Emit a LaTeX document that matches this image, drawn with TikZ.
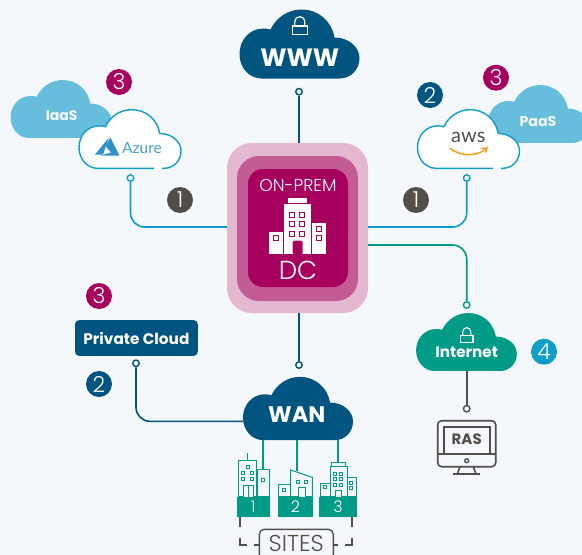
\documentclass[tikz,border=0pt]{standalone}
\usepackage{fontspec}
\setmainfont{Poppins}
\newfontfamily\lightfam{Poppins Light}
\newfontfamily\logofam{Lato}
\newcommand{\fs}[1]{\fontsize{#1}{#1}\selectfont}
\definecolor{bgcol}{HTML}{F4F8FC}
\definecolor{dkblue}{HTML}{005480}
\definecolor{magen}{HTML}{A8005F}
\definecolor{midpink}{HTML}{C25B96}
\definecolor{ltpink}{HTML}{E5B8D1}
\definecolor{tealc}{HTML}{009B87}
\definecolor{skyc}{HTML}{67BEDC}
\definecolor{azblue}{HTML}{0F9DC9}
\definecolor{greyc}{HTML}{534E49}
\definecolor{azlogo}{HTML}{2F8FCB}
\definecolor{awsorange}{HTML}{F79A1E}
\tikzset{bold/.style={font=\bfseries\fs{#1},text=white,inner sep=0pt}}
\tikzset{slim/.style={font=\lightfam\fs{#1},text=white,inner sep=0pt}}
\tikzset{badge/.style={circle,fill=#1,text=white,minimum size=26pt,inner sep=0pt,font=\lightfam\fs{22}}}
\tikzset{dot/.style={circle,draw=#1,fill=bgcol,line width=1.4pt,minimum size=6.5pt,inner sep=0pt}}
\tikzset{link/.style={draw=#1,line width=1.6pt,rounded corners=14pt}}
\tikzset{bld/.style={draw=tealc,line width=1pt,fill=bgcol}}
\tikzset{frame/.style={rounded corners=#1,inner sep=0pt}}
\tikzset{lockpic/.pic={
  \path[pic actions] (-7.5,-4.3) rectangle (7.5,4.3);
  \path[pic actions] (-5,-4.3) -- (-5,-8) .. controls (-5,-15.5) and (5,-15.5) .. (5,-8) -- (5,-4.3);
}}
\tikzset{cloudpic/.pic={
  \path[pic actions] (-38,34.5) .. controls (-50,34.5) and (-60,24) .. (-60,10)
    .. controls (-60,-4) and (-50,-15.5) .. (-36,-15.5)
    .. controls (-33,-15.5) and (-31,-15) .. (-29,-14.5)
    .. controls (-23,-27) and (-11,-34.5) .. (2,-34.5)
    .. controls (19,-34.5) and (32,-23) .. (35,-6.5)
    .. controls (49,-6.5) and (60,3) .. (60,14)
    .. controls (60,26) and (51,34.5) .. (40,34.5) -- cycle;
  \coordinate (-s) at (0,34.5);
  \coordinate (-w) at (-60,14);
}}
\begin{document}
\begin{tikzpicture}[x=1pt,y=-1pt]
\useasboundingbox (0,0) rectangle (582,555);
\fill[bgcol] (0,0) rectangle (582,555);

% clouds
\pic[fill=dkblue] (www) at (299.5,44) {cloudpic};
\pic[fill=skyc,scale=.84] (iaas) at (61,109) {cloudpic};
\pic[fill=skyc,scale=.84] (paas) at (538.5,114) {cloudpic};
\pic[fill=white,draw=azblue,line width=1.4pt,scale=.85] (azure) at (130,139) {cloudpic};
\pic[fill=white,draw=azblue,line width=1.4pt,scale=.85] (aws) at (468.5,139) {cloudpic};
\pic[fill=dkblue,scale=.917] (wan) at (298,408.5) {cloudpic};
\pic[fill=tealc,scale=.84] (inet) at (466.5,342) {cloudpic};
\draw[white,line width=2.2pt] (154,168.4) -- (162,168.4);
\draw[white,line width=2.2pt] (493,168.4) -- (501,168.4);

\pic[draw=white,line width=1.2pt] (wwwlock) at (299.8,30.3) {lockpic};
\pic[draw=white,line width=1.1pt,scale=.82] (inetlock) at (466.8,338.8) {lockpic};
\node[bold=25](wwwlab) at (299.8,57.5) {WWW};
\node[bold=22.5](wanlab) at (296.7,414.3) {WAN};
\node[bold=15.2](inetlab) at (466.7,352.7) {Internet};
\node[bold=14,text=bgcol](iaaslab) at (61.7,116) {IaaS};
\node[bold=14.2,text=bgcol](paaslab) at (538,121) {PaaS};

% logos
\fill[azlogo] (109,137.5) -- (95,154.5) -- (103,154.5) -- cycle;
\fill[azlogo] (110.5,137.5) -- (119.5,155.5) -- (101,155.5) -- (111,152.5) -- (105.5,146) -- cycle;
\node[font=\logofam\fs{15.5},text=azlogo!85!white,inner sep=0pt](azlab) at (142,148.3) {Azure};
\node[font=\logofam\fs{20},text=greyc,inner sep=0pt](awslab) at (468.3,137.5) {aws};
\draw[awsorange,line width=1.5pt,line cap=round] (450,148.5) .. controls (460,156) and (474,156.5) .. (484,150.5);
\fill[awsorange] (480,148.2) -- (488,147.2) -- (486,154) -- (485,150) -- cycle;

% dc box
\node[frame=25pt,fill=ltpink,minimum width=141pt,minimum height=170pt](dcouter) at (297.5,228) {};
\node[frame=22pt,fill=midpink,minimum width=121pt,minimum height=145pt](dcmid) at (297.5,228.5) {};
\node[frame=15pt,fill=magen,minimum width=100pt,minimum height=118pt](dcinner) at (298,228) {};
\node[slim=17.2](onprem) at (298,185) {ON-PREM};
\node[slim=26](dclab) at (298,270.7) {DC};
\coordinate (dcleft) at (227,227);
\coordinate (dcright) at (368,227);
\coordinate (dcnet) at (368,245);

% building in the box
\fill[white] (287.7,197.7) rectangle (307.3,202.7);
\fill[white] (284.3,204) rectangle (311,254);
\fill[white] (268.7,232) rectangle (282.7,254);
\fill[white] (312.3,222.7) rectangle (326,254);
\foreach \x/\y in {291.7/215,302.3/215,291.7/224.3,302.3/224.3,291.7/233.7,302.3/233.7,319/228.7,319/237.7,276/238.3}
  \draw[magen,line width=1.3pt] (\x-2.5,\y-2.5) rectangle (\x+2.5,\y+2.5);
\fill[magen,rounded corners=2pt] (292.7,254.5) -- (292.7,240.7) -- (302.7,240.7) -- (302.7,254.5) -- cycle;

% dots and links
\node[dot=azblue](azdot) at (130.5,178) {};
\node[dot=azblue](awsdot) at (466.7,178) {};
\node[dot=tealc](inetdot) at (466.7,305) {};
\node[dot=dkblue](wwwdot) at (299,91.7) {};
\node[dot=dkblue](wandot) at (299,365) {};
\node[dot=dkblue](privdot) at (136,363.3) {};
\node[dot=greyc](rasdot) at (466.7,408.7) {};
\draw[link=azblue] (azdot) |- (dcleft);
\draw[link=azblue] (awsdot) |- (dcright);
\draw[link=tealc] (dcnet) -| (inetdot);
\draw[link=dkblue] (wwwdot) -- (dcouter.north -| wwwdot);
\draw[link=dkblue] (dcouter.south -| wandot) -- (wandot);
\draw[link=dkblue] (privdot) |- (wan-w);
\draw[link=greyc] (inet-s -| rasdot) -- (rasdot);

% private cloud
\node[frame=4pt,fill=dkblue,minimum width=122.7pt,minimum height=35.7pt,bold=15.3](priv) at (136.4,338) {Private Cloud};

% badges
\foreach \n/\x/\y/\c/\t in {azthree/119/82/magen/3,awstwo/430/95/dkblue/2,awsthree/496/77.7/magen/3,
  leftone/180/200/greyc/1,rightone/416/200/greyc/1,privthree/99/296/magen/3,privtwo/99/384/dkblue/2,inetfour/544/351.7/azblue/4}
  \node[badge=\c](\n) at (\x,\y) {\t};

% ras monitor
\draw[greyc,line width=1.6pt,rounded corners=4pt] (437.7,420.7) rectangle (495.7,466.7);
\draw[greyc,line width=1.6pt] (444,454) -- (444,426.7) -- (490,426.7) -- (490,454);
\draw[greyc,line width=1.6pt] (437.7,454) -- (495.7,454);
\draw[greyc,line width=1.3pt] (466.7,460.7) circle (2pt);
\draw[greyc,line width=1.6pt] (460,466.7) -- (457.3,474);
\draw[greyc,line width=1.6pt] (473.3,466.7) -- (476,474);
\draw[greyc,line width=1.6pt] (452.7,474) -- (480,474);
\node[bold=15,text=greyc](raslab) at (466.7,439.3) {RAS};

% site links
\coordinate (sitea) at (263,469);
\coordinate (siteb) at (296.7,471);
\coordinate (sitec) at (338,462.3);
\foreach \t in {sitea,siteb,sitec}
  \draw[link=tealc] (wan-s -| \t) -- (\t);

% site 1
\draw[bld] (257.3,469.3) rectangle (269.3,496.7);
\draw[bld] (238.3,460.7) rectangle (256.7,496.7);
\draw[bld] (247.7,453.3) -- (247.7,460.7);
\draw[bld] (243.3,496.7) -- (243.3,485) -- (253.3,485) -- (253.3,496.7);
\draw[bld] (248.3,485) -- (248.3,496.7);
% site 2
\draw[bld] (278.3,484.3) rectangle (290.7,496.7);
\draw[bld] (290.7,496.7) -- (290.7,470) -- (312.3,477.3) -- (312.3,496.7) -- cycle;
\draw[bld] (298.3,496.7) -- (298.3,487.3) -- (305.7,487.3) -- (305.7,496.7);
% site 3
\draw[bld] (320,483.3) rectangle (330,496.7);
\draw[bld] (347.3,477.7) rectangle (356,496.7);
\draw[bld] (331.7,462.3) rectangle (345,466.7);
\draw[bld] (330,466.7) rectangle (347.3,496.7);
\draw[bld] (335,496.7) -- (335,490) -- (341.7,490) -- (341.7,496.7);
\foreach \x/\y in {247.7/466.7,243.3/472.7,251.7/472.7,243.3/479.3,251.7/479.3,263/480,298.3/481.7,305.7/481.7,284.3/490,
  335.3/474,341.3/474,335.3/479.3,341.3/479.3,335.3/485,341.3/485,325/487.3,351/482.7,351/487.8}
  \draw[bld] (\x-1.6,\y-1.6) rectangle (\x+1.6,\y+1.6);
\foreach \n/\x/\w/\t in {basea/253.3/33.3/1,baseb/295.5/35.6/2,basec/338/37.4/3}
  \node[fill=tealc,minimum width=\w pt,minimum height=20pt,slim=16,inner sep=0pt](\n) at (\x,507) {\t};

% sites bracket
\node[draw=greyc,line width=1.4pt,rounded corners=5pt,minimum width=74pt,minimum height=36pt,inner sep=0pt](sitebox) at (296.3,547.3) {};
\node[slim=23,text=greyc](siteslab) at (296.3,543.6) {SITES};
\draw[greyc,line width=1.5pt] (240,516.7) -- (240,526.7);
\draw[greyc,line width=1.5pt] (352,516.7) -- (352,526.7);
\draw[greyc,line width=1.5pt] (240,538) -- (240,545) -- (246.7,545);
\draw[greyc,line width=1.5pt] (352,538) -- (352,545) -- (345,545);
\draw[greyc,line width=1.5pt] (254,545) -- (259.3,545);
\draw[greyc,line width=1.5pt] (333.3,545) -- (338,545);
\end{tikzpicture}
\end{document}
